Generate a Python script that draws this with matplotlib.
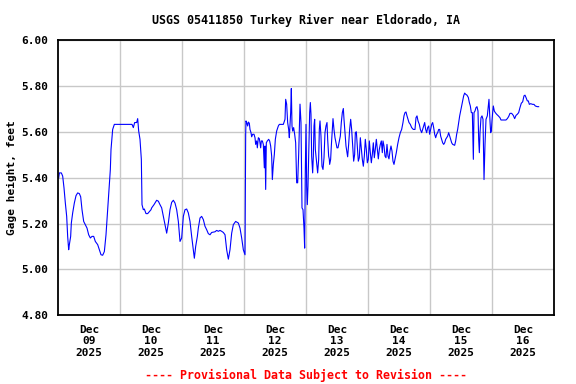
import matplotlib
matplotlib.use("Agg")
import matplotlib.pyplot as plt
from matplotlib.ticker import FixedLocator

plt.rcParams['font.family'] = ['DejaVu Sans Mono']
plt.rcParams['font.weight'] = 'bold'

# hours after Dec 09 2025 00:00 and gage height (feet)
hours = [
    0.26, 0.52, 1.29, 1.81, 2.32, 2.84, 3.36, 3.74, 4.13, 4.39, 4.90, 5.16, 5.68, 6.32,
    6.97, 7.61, 8.26, 8.78, 9.29, 9.94, 10.58, 11.23, 11.87, 12.52, 13.16, 13.81, 14.45,
    15.36, 16.00, 16.65, 17.29, 17.94, 18.58, 19.23, 19.87, 20.26, 20.52, 21.16, 21.81,
    25.03, 28.65, 29.16, 29.68, 30.45, 30.84, 31.23, 31.74, 32.26, 32.52, 33.03, 33.42,
    34.06, 34.71, 36.00, 36.26, 37.16, 38.19, 38.84, 39.48, 40.13, 40.77, 41.42, 42.07,
    42.71, 43.36, 44.00, 44.65, 45.29, 45.94, 46.58, 47.23, 47.87, 48.52, 49.16, 49.81,
    50.45, 51.10, 51.74, 52.39, 52.78, 53.29, 53.94, 54.32, 54.97, 55.61, 56.26, 56.90,
    57.55, 58.19, 58.84, 59.48, 60.77, 61.42, 62.07, 62.71, 63.36, 64.00, 64.65, 65.29,
    65.94, 66.58, 67.23, 67.87, 68.77, 69.81, 70.45, 71.10, 71.74, 72.39, 72.65, 72.77,
    73.03, 73.42, 73.68, 74.06, 74.32, 74.71, 74.97, 75.35, 75.87, 76.26, 76.51, 76.90,
    77.16, 77.55, 77.93, 78.19, 78.45, 78.71, 79.10, 79.48, 79.87, 80.13, 80.39, 80.64,
    81.03, 81.55, 81.93, 82.32, 82.71, 82.97, 83.35, 83.74, 84.13, 84.64, 85.29, 85.68,
    87.22, 87.87, 88.13, 88.51, 88.90, 89.29, 89.55, 89.80, 90.06, 90.32, 90.58, 90.84,
    91.22, 91.61, 92.00, 92.39, 92.77, 93.16, 93.42, 93.68, 94.06, 94.45, 94.84, 95.22,
    95.48, 95.74, 96.00, 96.26, 96.51, 96.77, 97.03, 97.42, 97.68, 97.93, 98.19, 98.58,
    98.84, 99.10, 99.35, 99.61, 100.13, 100.51, 100.90, 101.16, 101.42, 101.80, 102.19,
    102.58, 102.97, 103.35, 103.74, 104.13, 104.39, 104.77, 105.03, 105.16, 105.54,
    105.80, 106.19, 106.45, 106.83, 107.22, 107.61, 108.00, 108.38, 108.77, 109.29,
    109.67, 110.06, 110.45, 110.71, 111.09, 111.48, 111.87, 112.12, 112.51, 112.90,
    113.29, 113.67, 114.06, 114.45, 114.83, 115.09, 115.48, 115.87, 116.25, 116.64,
    117.03, 117.41, 117.80, 118.19, 118.58, 118.96, 119.35, 119.74, 120.12, 120.51,
    120.90, 121.29, 121.67, 122.06, 122.45, 122.83, 123.22, 123.61, 124.00, 124.38,
    124.77, 125.16, 125.54, 125.80, 126.19, 126.58, 126.96, 127.35, 127.74, 128.12,
    128.51, 128.90, 129.29, 129.67, 130.06, 130.45, 130.96, 131.48, 132.00, 132.51,
    133.03, 133.54, 133.93, 134.32, 134.70, 135.09, 135.48, 135.87, 136.38, 136.90,
    137.54, 138.19, 138.58, 138.97, 139.36, 139.87, 140.26, 140.78, 141.16, 141.55,
    141.94, 142.32, 142.71, 143.10, 143.49, 143.87, 144.26, 144.65, 145.03, 145.42,
    145.81, 146.20, 146.58, 146.97, 147.36, 147.74, 148.13, 148.52, 148.90, 149.29,
    149.68, 150.07, 150.45, 150.84, 151.23, 151.61, 152.00, 152.39, 152.78, 153.55,
    153.94, 154.32, 154.71, 155.10, 155.49, 155.87, 156.26, 156.65, 157.03, 157.42,
    157.81, 158.32, 158.84, 159.23, 159.61, 160.00, 160.39, 160.78, 161.03, 161.42,
    161.81, 162.19, 162.58, 162.84, 163.10, 163.36, 163.74, 164.13, 164.52, 164.91,
    165.29, 165.68, 166.19, 166.83, 167.22, 167.48, 167.74, 167.99, 168.25, 168.51,
    168.90, 169.29, 169.80, 170.45, 171.09, 171.48, 172.38, 173.41, 173.93, 174.45,
    174.96, 175.61, 176.25, 176.77, 177.29, 177.80, 178.32, 178.83, 179.35, 179.87,
    180.38, 180.77, 181.16, 181.67, 182.06, 182.45, 182.96, 183.74, 184.25, 184.77,
    185.54, 186.06,
]
gage = [
    5.398, 5.420, 5.420, 5.406, 5.355, 5.289, 5.231, 5.144, 5.086, 5.108, 5.144, 5.202, 5.246, 5.289,
    5.321, 5.333, 5.330, 5.316, 5.260, 5.209, 5.195, 5.180, 5.151, 5.137, 5.144, 5.144, 5.122,
    5.108, 5.086, 5.064, 5.062, 5.078, 5.151, 5.260, 5.362, 5.435, 5.522, 5.609, 5.631,
    5.631, 5.631, 5.617, 5.639, 5.639, 5.656, 5.602, 5.566, 5.479, 5.282, 5.260, 5.263,
    5.243, 5.243, 5.260, 5.268, 5.282, 5.301, 5.297, 5.282, 5.268, 5.231, 5.195, 5.158,
    5.202, 5.260, 5.292, 5.301, 5.289, 5.260, 5.209, 5.122, 5.137, 5.231, 5.260, 5.263,
    5.246, 5.209, 5.144, 5.086, 5.049, 5.100, 5.144, 5.180, 5.224, 5.231, 5.217, 5.188,
    5.173, 5.156, 5.151, 5.161, 5.164, 5.170, 5.166, 5.170, 5.166, 5.161, 5.151, 5.086,
    5.045, 5.086, 5.158, 5.195, 5.209, 5.202, 5.180, 5.137, 5.086, 5.064, 5.588, 5.646,
    5.639, 5.624, 5.641, 5.636, 5.609, 5.595, 5.577, 5.588, 5.588, 5.573, 5.544, 5.559,
    5.529, 5.573, 5.569, 5.551, 5.529, 5.559, 5.559, 5.544, 5.442, 5.537, 5.348, 5.551,
    5.559, 5.566, 5.559, 5.537, 5.493, 5.391, 5.457, 5.500, 5.566, 5.602, 5.624, 5.631,
    5.631, 5.653, 5.740, 5.719, 5.639, 5.609, 5.573, 5.624, 5.682, 5.787, 5.624, 5.602,
    5.617, 5.588, 5.551, 5.377, 5.377, 5.500, 5.609, 5.719, 5.639, 5.268, 5.260, 5.180,
    5.093, 5.435, 5.631, 5.362, 5.282, 5.362, 5.493, 5.682, 5.726, 5.675, 5.493, 5.420,
    5.493, 5.624, 5.653, 5.522, 5.464, 5.420, 5.479, 5.609, 5.646, 5.580, 5.449,
    5.435, 5.486, 5.595, 5.624, 5.639, 5.566, 5.493, 5.479, 5.457, 5.479,
    5.537, 5.609, 5.656, 5.609, 5.573, 5.551, 5.529, 5.529, 5.551, 5.580,
    5.639, 5.682, 5.700, 5.653, 5.595, 5.537, 5.508, 5.490, 5.544, 5.609,
    5.653, 5.609, 5.537, 5.471, 5.500, 5.595, 5.599, 5.537, 5.471, 5.486,
    5.573, 5.529, 5.479, 5.449, 5.493, 5.566, 5.522, 5.464, 5.479, 5.559,
    5.508, 5.464, 5.500, 5.551, 5.486, 5.522, 5.566, 5.522, 5.481, 5.522,
    5.544, 5.559, 5.508, 5.559, 5.537, 5.493, 5.486, 5.544, 5.493, 5.481,
    5.515, 5.537, 5.515, 5.471, 5.457, 5.479, 5.508, 5.544, 5.573, 5.595,
    5.609, 5.639, 5.668, 5.682, 5.685, 5.668, 5.653, 5.639, 5.631, 5.617,
    5.609, 5.609, 5.660, 5.668, 5.646, 5.631, 5.609, 5.595, 5.609, 5.624,
    5.639, 5.609, 5.595, 5.617, 5.624, 5.588, 5.609, 5.631, 5.639, 5.617,
    5.588, 5.573, 5.588, 5.595, 5.609, 5.609, 5.580, 5.566, 5.551, 5.544,
    5.551, 5.566, 5.573, 5.580, 5.595, 5.580, 5.566, 5.551, 5.544, 5.540,
    5.559, 5.588, 5.609, 5.639, 5.668, 5.689, 5.711, 5.733, 5.755, 5.767,
    5.762, 5.758, 5.748, 5.726, 5.711, 5.682, 5.682, 5.479, 5.682, 5.689,
    5.704, 5.708, 5.689, 5.566, 5.508, 5.595, 5.660, 5.668, 5.653, 5.391,
    5.544, 5.653, 5.668, 5.740, 5.646, 5.595, 5.602, 5.646, 5.682, 5.711,
    5.689, 5.682, 5.675, 5.668, 5.660, 5.650, 5.650, 5.650, 5.656, 5.665,
    5.679, 5.679, 5.670, 5.656, 5.670, 5.675, 5.682, 5.704, 5.723, 5.729,
    5.755, 5.758, 5.748, 5.733, 5.733, 5.718, 5.721, 5.718, 5.718, 5.711,
    5.708, 5.708,
]

day_labels = ["Dec\n09\n2025", "Dec\n10\n2025", "Dec\n11\n2025", "Dec\n12\n2025",
              "Dec\n13\n2025", "Dec\n14\n2025", "Dec\n15\n2025", "Dec\n16\n2025"]
y_ticks = [4.80, 5.00, 5.20, 5.40, 5.60, 5.80, 6.00]

fig = plt.figure(figsize=(5.76, 3.84), dpi=100)
ax = fig.add_axes([0.1007, 0.1784, 0.8611, 0.7187])

ax.plot(hours, gage, color='#0000ff', linewidth=0.8)

ax.set_xlim(0, 24 * len(day_labels))
ax.set_ylim(4.80, 6.00)

# labels at noon, grid lines at midnight
ax.xaxis.set_major_locator(FixedLocator([12 + 24 * i for i in range(len(day_labels))]))
ax.xaxis.set_minor_locator(FixedLocator([24 * i for i in range(1, len(day_labels))]))
ax.set_xticklabels(day_labels, fontsize=8, fontweight='bold', linespacing=1.15)
ax.set_yticks(y_ticks)
ax.set_yticklabels([f"{v:.2f}" for v in y_ticks], fontsize=8, fontweight='bold')
ax.tick_params(axis='both', which='both', length=0)
ax.tick_params(axis='x', pad=7)
ax.tick_params(axis='y', pad=7)

ax.grid(which='minor', axis='x', color='#c8c8c8', linewidth=1)
ax.grid(which='major', axis='y', color='#c8c8c8', linewidth=1)
ax.set_axisbelow(True)
for sp in ax.spines.values():
    sp.set_linewidth(1.3)
    sp.set_color('black')

ax.set_ylabel("Gage height, feet", fontsize=8, fontweight='bold', labelpad=3)
ax.set_title("USGS 05411850 Turkey River near Eldorado, IA", fontsize=8.4,
             fontweight='bold', pad=11)

fig.text(0.531, 0.012, "---- Provisional Data Subject to Revision ----",
         color='#ff0000', fontsize=8.4, fontweight='bold', ha='center')

fig.savefig("out.png", dpi=100)
